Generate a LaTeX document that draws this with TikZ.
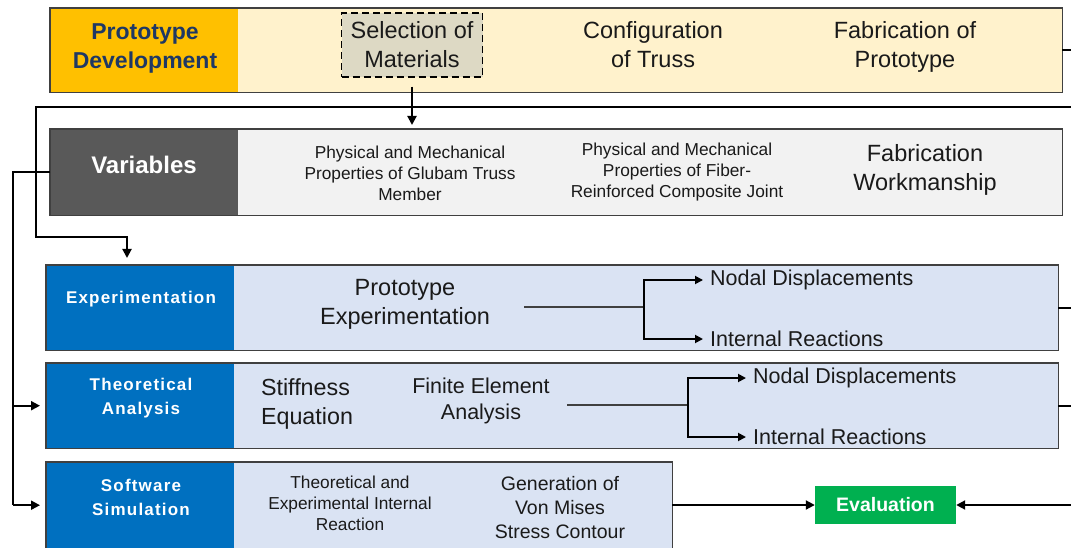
\documentclass[tikz,border=0pt]{standalone}
\usepackage{fontspec}
\setmainfont{Liberation Sans}
\usetikzlibrary{arrows.meta,positioning,calc}
\definecolor{devtag}{HTML}{FFC000}
\definecolor{devfill}{HTML}{FFF2CC}
\definecolor{devtext}{HTML}{1F3864}
\definecolor{matfill}{HTML}{DDD9C4}
\definecolor{vartag}{HTML}{595959}
\definecolor{varfill}{HTML}{F2F2F2}
\definecolor{methtag}{HTML}{0070C0}
\definecolor{methfill}{HTML}{DAE3F3}
\definecolor{evalfill}{HTML}{00B050}
\definecolor{rim}{HTML}{404040}
\definecolor{ink}{HTML}{1A1A1A}
\newcommand{\fsz}[2]{\fontsize{#1}{#2}\selectfont}

\begin{document}
\begin{tikzpicture}[x=1pt,y=-1pt,
  panel/.style={anchor=north west, inner sep=0pt},
  tag/.style={anchor=north west, inner sep=0pt, minimum width=188pt},
  tagtxt/.style={align=center, inner sep=0pt, text=white,
    font=\fsz{17}{24}\bfseries\addfontfeatures{LetterSpace=7}},
  txt/.style={align=center, inner sep=0pt, text=ink},
  conn/.style={line width=2pt, black},
  arr/.style={conn, -{Triangle[length=9pt,width=9pt]}},
  fork/.style={line width=1.2pt, rim},
  farr/.style={line width=1.8pt, black, -{Triangle[length=8pt,width=8pt]}}]
  \useasboundingbox (0,0) rectangle (1071,548);

  % Bands
  \node[panel, fill=devfill, minimum width=1012pt, minimum height=84pt] (dev) at (50,8) {};
  \node[panel, fill=varfill, minimum width=1012pt, minimum height=86pt] (var) at (50,129) {};
  \node[panel, fill=methfill, minimum width=1012pt, minimum height=85pt] (exp) at (46,265) {};
  \node[panel, fill=methfill, minimum width=1012pt, minimum height=85pt] (theo) at (46,363) {};
  \node[panel, fill=methfill, minimum width=626pt, minimum height=86pt] (sim) at (46,462) {};

  % Tags
  \node[tag, fill=devtag, minimum height=84pt] (devlab) at (50,8) {};
  \node[tag, fill=vartag, minimum height=86pt] (varlab) at (50,129) {};
  \node[tag, fill=methtag, minimum height=85pt] (explab) at (46,265) {};
  \node[tag, fill=methtag, minimum height=85pt] (theolab) at (46,363) {};
  \node[tag, fill=methtag, minimum height=86pt] (simlab) at (46,462) {};

  \foreach \b in {dev,var,exp,theo,sim}
    \draw[rim, line width=1.6pt] (\b.north west) rectangle (\b.south east);

  \node[txt, text=devtext, font=\fsz{23}{29}\bfseries] (devtxt) at (145,48) {Prototype\\Development};
  \node[txt, text=white, font=\fsz{24}{29}\bfseries] (vartxt) at (144,165) {Variables};
  \node[tagtxt] (exptxt) at (141,299) {Experimentation};
  \node[tagtxt] (theotxt) at (141,398) {Theoretical\\Analysis};
  \node[tagtxt] (simtxt) at (141,497) {Software\\Simulation};

  % Prototype development
  \node[txt, draw=black, dash pattern=on 7pt off 4pt, line width=1.5pt, fill=matfill, minimum width=141pt,
    minimum height=64pt, font=\fsz{23.5}{29}] (sel) at (412,45) {Selection of\\Materials};
  \node[txt, font=\fsz{23.5}{29}] (conf) at (653,45) {Configuration\\of Truss};
  \node[txt, font=\fsz{23.5}{29}] (fab) at (905,47) {Fabrication of\\Prototype};

  % Variables
  \node[txt, font=\fsz{17.3}{21}] (glu) at (410,173) {Physical and Mechanical\\Properties of Glubam Truss\\Member};
  \node[txt, font=\fsz{17.3}{21}] (frc) at (677,172.5) {Physical and Mechanical\\Properties of Fiber-\\Reinforced Composite Joint};
  \node[txt, font=\fsz{23.5}{29}] (work) at (925,170) {Fabrication\\Workmanship};

  % Experimentation
  \node[txt, font=\fsz{23.5}{29}] (protexp) at (405,304.5) {Prototype\\Experimentation};
  \node[txt, anchor=west, inner sep=7pt, font=\fsz{21.5}{24}] (nd1) at (703,280) {Nodal Displacements};
  \node[txt, anchor=west, inner sep=7pt, font=\fsz{21.5}{24}] (ir1) at (703,339) {Internal Reactions};
  \coordinate (expout) at (524,307);
  \coordinate (forkA) at (644,307);
  \draw[fork] (expout) -- (forkA);
  \draw[farr] (forkA) |- (nd1.west);
  \draw[farr] (forkA) |- (ir1.west);

  % Theoretical analysis
  \node[txt, align=left, font=\fsz{23.3}{29}] (stiff) at (307,404) {Stiffness\\Equation};
  \node[txt, font=\fsz{21.5}{26}] (fea) at (481,401) {Finite Element\\Analysis};
  \node[txt, anchor=west, inner sep=7pt, font=\fsz{21.5}{24}] (nd2) at (746,378) {Nodal Displacements};
  \node[txt, anchor=west, inner sep=7pt, font=\fsz{21.5}{24}] (ir2) at (746,437) {Internal Reactions};
  \coordinate (theoout) at (567,405);
  \coordinate (forkB) at (688,405);
  \draw[fork] (theoout) -- (forkB);
  \draw[farr] (forkB) |- (nd2.west);
  \draw[farr] (forkB) |- (ir2.west);

  % Software simulation
  \node[txt, font=\fsz{17.3}{21}] (ter) at (350,503) {Theoretical and\\Experimental Internal\\Reaction};
  \node[txt, font=\fsz{19.5}{24}] (gen) at (560,507.5) {Generation of\\Von Mises\\Stress Contour};

  % Evaluation
  \node[txt, fill=evalfill, text=white, minimum width=141pt, minimum height=38pt,
    font=\fsz{19.5}{22}\bfseries] (eval) at (885.5,505) {Evaluation};

  % Connectors
  \coordinate (edgeR) at (1071,0);
  \coordinate (fbk) at (1071,107);
  \coordinate (bend) at (36,237);
  \coordinate (expin) at (127,258);
  \coordinate (trunk) at (13,0);
  \draw[arr] ([yshift=-9pt]sel.south) -- ([yshift=4pt]var.north -| sel.south);
  \draw[arr] (fbk) -| (bend) -| (expin);
  \draw[conn] (var.west) -| (trunk |- sim.west);
  \draw[arr] (trunk |- theo.west) -- ([xshift=-6pt]theo.west);
  \draw[arr] (trunk |- sim.west) -- ([xshift=-6pt]sim.west);
  \draw[arr] (sim.east |- eval.west) -- (eval.west);
  \draw[arr] (eval.east -| edgeR) -- (eval.east);
  \draw[conn] (dev.east) -- (dev.east -| edgeR);
  \draw[conn] (exp.east) -- (exp.east -| edgeR);
  \draw[conn] (theo.east) -- (theo.east -| edgeR);
\end{tikzpicture}
\end{document}
